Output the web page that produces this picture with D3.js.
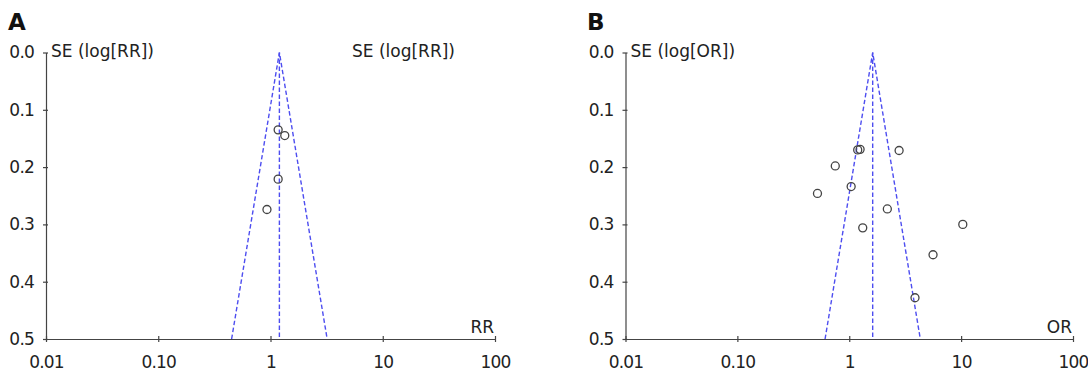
<!DOCTYPE html>
<html>
<head>
<meta charset="utf-8">
<script src="https://cdn.jsdelivr.net/npm/d3@7"></script>
<style>
  body { margin: 0; background: #fff; }
  svg text { font-family: "DejaVu Sans", Verdana, sans-serif; fill: #222; }
</style>
</head>
<body>
<div id="chart"></div>
<script>
// tick values / labels shared by both panels
var xTicks = [0.01, 0.1, 1, 10, 100];
var xTickLabels = ["0.01", "0.10", "1", "10", "100"];
var yTicks = [0, 0.1, 0.2, 0.3, 0.4, 0.5];

// panel A: relative risk
var rrSummary = 1.20;
var rrValues = [1.17, 1.34, 1.17, 0.93];
var rrSE = [0.135, 0.145, 0.221, 0.274];

// panel B: odds ratio
var orSummary = 1.62;
var orValues = [1.19, 1.25, 2.79, 0.75, 1.04, 0.52, 2.19, 10.35, 1.32, 5.61, 3.87];
var orSE = [0.170, 0.169, 0.171, 0.198, 0.234, 0.246, 0.273, 0.300, 0.306, 0.353, 0.428];

var svgWidth = 1088;
var svgHeight = 374;
var fontSize = "17px";

var svg = d3.select("#chart")
  .append("svg")
  .attr("width", svgWidth)
  .attr("height", svgHeight);

svg.append("rect")
  .attr("width", svgWidth)
  .attr("height", svgHeight)
  .attr("fill", "white");

function drawPanel(opts) {
  var g = svg.append("g");

  var x = d3.scaleLog().domain([0.01, 100]).range([opts.left, opts.right]);
  var y = d3.scaleLinear().domain([0, 0.5]).range([52.5, 339]);

  // panel letter
  g.append("text")
    .attr("x", opts.letterX)
    .attr("y", 30)
    .attr("font-size", "23px")
    .attr("font-weight", "bold")
    .style("fill", "#111")
    .text(opts.letter);

  // x axis
  var xAxis = g.append("g")
    .attr("transform", `translate(0, ${y(0.5)})`)
    .call(d3.axisBottom(x)
      .tickValues(xTicks)
      .tickFormat((d, i) => xTickLabels[i])
      .tickSizeOuter(0));
  xAxis.selectAll(".tick line").attr("y1", -3).attr("y2", 3);
  xAxis.selectAll(".tick text")
    .attr("y", 29).attr("dy", 0);

  // y axis
  var yAxis = g.append("g")
    .attr("transform", `translate(${opts.left}, 0)`)
    .call(d3.axisLeft(y)
      .tickValues(yTicks)
      .tickFormat(d3.format(".1f"))
      .tickSizeOuter(0));
  yAxis.selectAll(".tick line").attr("x1", 2).attr("x2", -3);
  yAxis.selectAll(".tick text")
    .attr("x", -12);

  g.selectAll(".domain, .tick line")
    .attr("stroke", "#444")
    .attr("stroke-width", 1.2);
  // tahoma-like digits are narrower than DejaVu, tighten a bit
  g.selectAll(".tick text")
    .style("fill", "#222")
    .attr("font-family", "DejaVu Sans, Verdana, sans-serif")
    .attr("font-size", fontSize)
    .attr("letter-spacing", "-0.8px");

  // axis titles
  opts.yTitleX.forEach(function(tx) {
    g.append("text")
      .attr("x", tx)
      .attr("y", 57)
      .attr("font-size", fontSize)
      .text(opts.yTitle);
  });
  g.append("text")
    .attr("x", opts.right - 1)
    .attr("y", 333)
    .attr("text-anchor", "end")
    .attr("font-size", fontSize)
    .text(opts.xTitle);

  // funnel: 95% limits and summary line
  var z = 1.96;
  var est = opts.summary;
  var funnel = [
    [[est * Math.exp(-z * 0.5), 0.5], [est, 0], [est * Math.exp(z * 0.5), 0.5]],
    [[est, 0], [est, 0.5]]
  ];
  var line = d3.line().x(d => x(d[0])).y(d => y(d[1]));
  g.selectAll(".funnel")
    .data(funnel)
    .enter()
    .append("path")
    .attr("class", "funnel")
    .attr("d", line)
    .attr("fill", "none")
    .attr("stroke", "#4d4df0")
    .attr("stroke-width", 1.4)
    .attr("stroke-dasharray", "4.5,2.5");

  // studies
  g.selectAll(".study")
    .data(opts.values)
    .enter()
    .append("circle")
    .attr("class", "study")
    .attr("cx", d => x(d))
    .attr("cy", (d, i) => y(opts.se[i]))
    .attr("r", 4)
    .attr("fill", "none")
    .attr("stroke", "#444")
    .attr("stroke-width", 1.3);
}

drawPanel({
  letter: "A", letterX: 8,
  left: 46, right: 495,
  yTitle: "SE (log[RR])", yTitleX: [51, 352],
  xTitle: "RR",
  summary: rrSummary, values: rrValues, se: rrSE
});

drawPanel({
  letter: "B", letterX: 587,
  left: 625.5, right: 1073,
  yTitle: "SE (log[OR])", yTitleX: [630.5],
  xTitle: "OR",
  summary: orSummary, values: orValues, se: orSE
});
</script>
</body>
</html>
